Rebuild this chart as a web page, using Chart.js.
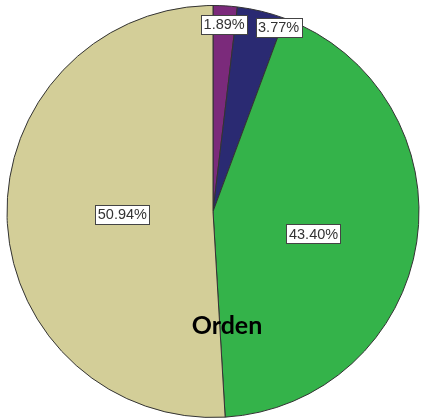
<!DOCTYPE html>
<html>
<head>
<meta charset="utf-8">
<script src="https://cdn.jsdelivr.net/npm/chart.js@4"></script>
<style>
  html, body { margin: 0; padding: 0; background: #fff; }
  #wrap { width: 423px; height: 420px; }
</style>
</head>
<body>
<div id="wrap"><canvas id="pieChart"></canvas></div>
<script>
// Data
const categories = ['Categoría 1', 'Categoría 2', 'Categoría 3', 'Categoría 4'];
const percentages = [1.89, 3.77, 43.40, 50.94];
const sliceColors = ['#7b2a7b', '#2a2a72', '#34b34a', '#d3ce98'];

// where each label box sits: fraction of radius, and a small angle nudge (deg)
const labelPlacement = [
  { r: 0.91, nudge: 0 },
  { r: 0.95, nudge: 6 },
  { r: 0.50, nudge: 4 },
  { r: 0.44, nudge: 0 }
];

const boxLabels = {
  id: 'boxLabels',
  afterDatasetsDraw(chart) {
    const ctx = chart.ctx;
    const meta = chart.getDatasetMeta(0);
    ctx.save();
    ctx.font = '14.5px "Liberation Sans", Arial, sans-serif';
    ctx.textAlign = 'center';
    ctx.textBaseline = 'middle';
    meta.data.forEach((arc, i) => {
      const p = arc.getProps(['x', 'y', 'startAngle', 'endAngle', 'outerRadius'], true);
      const place = labelPlacement[i];
      const mid = (p.startAngle + p.endAngle) / 2 + place.nudge * Math.PI / 180;
      const x = p.x + Math.cos(mid) * p.outerRadius * place.r;
      const y = p.y + Math.sin(mid) * p.outerRadius * place.r;
      const text = percentages[i].toFixed(2) + '%';
      const w = ctx.measureText(text).width + 5;
      const h = 19;
      ctx.fillStyle = '#ffffff';
      ctx.fillRect(Math.round(x - w / 2) + 0.5, Math.round(y - h / 2) + 0.5, Math.round(w), h);
      ctx.strokeStyle = '#444';
      ctx.lineWidth = 1;
      ctx.strokeRect(Math.round(x - w / 2) + 0.5, Math.round(y - h / 2) + 0.5, Math.round(w), h);
      ctx.fillStyle = '#333';
      ctx.fillText(text, x, y + 1);
    });
    // the variable name printed over the pie
    ctx.font = 'bold 25px Lato, "Open Sans", sans-serif';
    ctx.fillStyle = '#000';
    ctx.fillText('Orden', meta.data[0].x + 14, meta.data[0].y + 114);
    ctx.restore();
  }
};

const pieCtx = document.getElementById('pieChart').getContext('2d');
const pieChart = new Chart(pieCtx, {
  type: 'pie',
  data: {
    labels: categories,
    datasets: [{
      data: percentages,
      backgroundColor: sliceColors,
      borderColor: '#333333',
      borderWidth: 1
    }]
  },
  options: {
    responsive: true,
    maintainAspectRatio: false,
    animation: false,
    layout: { padding: { left: 6, right: 3, top: 5, bottom: 2 } },
    plugins: {
      legend: { display: false },
      tooltip: { enabled: false }
    }
  },
  plugins: [boxLabels]
});
</script>
</body>
</html>
